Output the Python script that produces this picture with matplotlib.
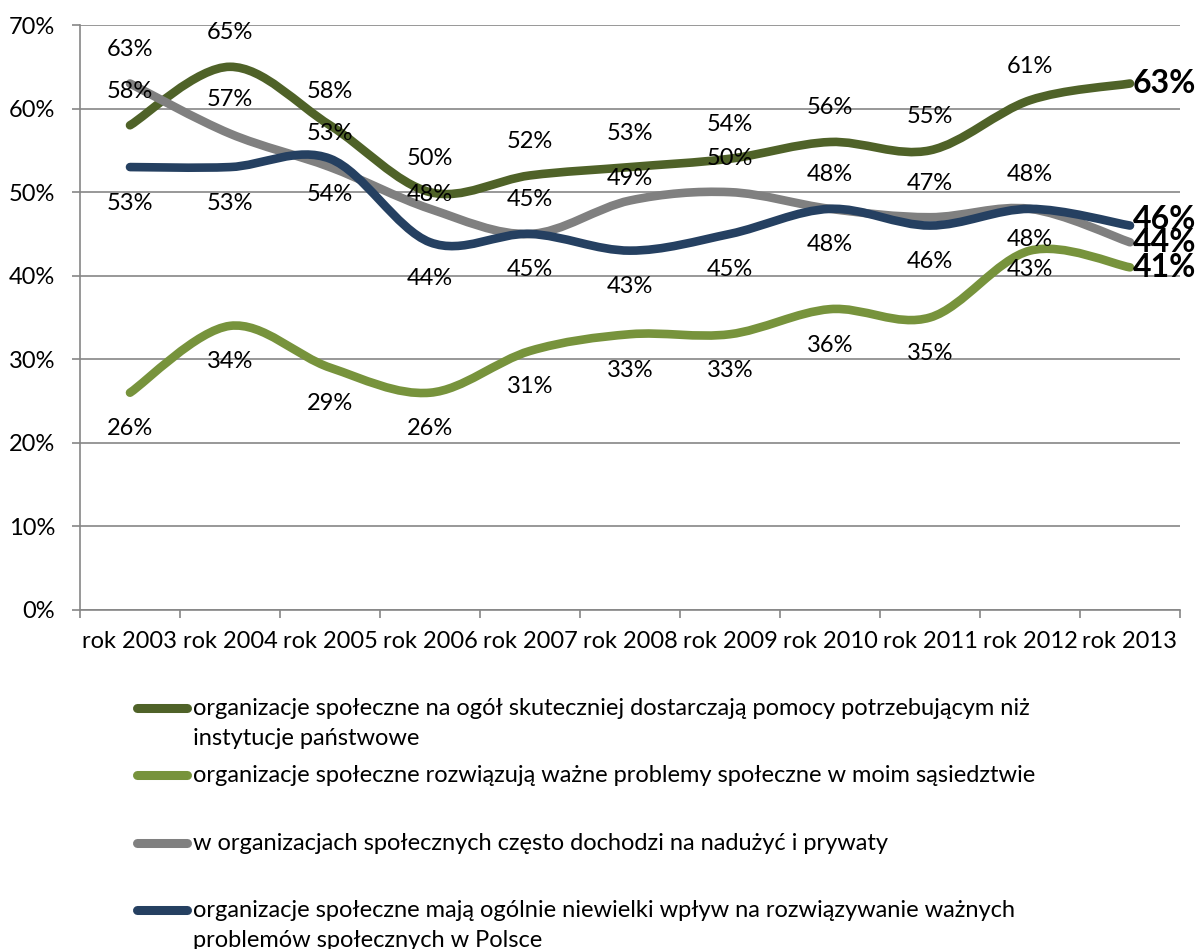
import numpy as np
import matplotlib
matplotlib.use("Agg")
import matplotlib.pyplot as plt
from matplotlib.path import Path
from matplotlib.patches import PathPatch
from matplotlib.lines import Line2D

plt.rcParams['font.family'] = ['Lato', 'DejaVu Sans']

years = ["rok 2003", "rok 2004", "rok 2005", "rok 2006", "rok 2007", "rok 2008",
         "rok 2009", "rok 2010", "rok 2011", "rok 2012", "rok 2013"]

skuteczniej = [58, 65, 58, 50, 52, 53, 54, 56, 55, 61, 63]
rozwiazuja = [26, 34, 29, 26, 31, 33, 33, 36, 35, 43, 41]
naduzycia = [63, 57, 53, 48, 45, 49, 50, 48, 47, 48, 44]
niewielki_wplyw = [53, 53, 54, 44, 45, 43, 45, 48, 46, 48, 46]

labels = [
    "organizacje społeczne na ogół skuteczniej dostarczają pomocy potrzebującym niż\ninstytucje państwowe",
    "organizacje społeczne rozwiązują ważne problemy społeczne w moim sąsiedztwie",
    "w organizacjach społecznych często dochodzi na nadużyć i prywaty",
    "organizacje społeczne mają ogólnie niewielki wpływ na rozwiązywanie ważnych\nproblemów społecznych w Polsce",
]

series = [skuteczniej, rozwiazuja, naduzycia, niewielki_wplyw]
colors = ["#4F6228", "#77933C", "#808080", "#254061"]
# label offsets in pixels (negative = above the point), a few moved by hand like in the original
base_off = [-34, 36, -34, 36]
extra_off = {(2, 3): 20, (2, 5): 12, (1, 9): -17, (3, 9): -5}
FS = 17


def smooth_path(xs, ys):
    # Excel-style smoothed line: cubic bezier segments through the points
    pts = np.column_stack([xs, ys]).astype(float)
    n = len(pts)
    verts = [pts[0]]
    codes = [Path.MOVETO]
    for i in range(n - 1):
        p0 = pts[i - 1] if i > 0 else pts[i]
        p1 = pts[i]
        p2 = pts[i + 1]
        p3 = pts[i + 2] if i + 2 < n else pts[i + 1]
        c1 = p1 + (p2 - p0) / 6.0
        c2 = p2 - (p3 - p1) / 6.0
        verts += [c1, c2, p2]
        codes += [Path.CURVE4] * 3
    return Path(verts, codes)


fig = plt.figure(figsize=(11.96, 9.49), dpi=100)
ax = fig.add_axes([80 / 1196, 1 - 610 / 949, 1100 / 1196, 585 / 949])

x = np.arange(len(years))
for k, (vals, col) in enumerate(zip(series, colors)):
    patch = PathPatch(smooth_path(x, vals), fill=False, edgecolor=col, lw=6.2,
                      capstyle='round', joinstyle='round', zorder=3 + k)
    ax.add_patch(patch)
    for i, v in enumerate(vals[:-1]):
        off = base_off[k] + extra_off.get((k, i), 0)
        ax.annotate(f"{v}%", (x[i], v), xytext=(0, -off), textcoords='offset pixels',
                    ha='center', va='center', fontsize=FS, color='black', zorder=10)

# bold end labels
end_off = [0, 0, 0, -6]
for k, vals in enumerate(series):
    ax.annotate(f"{vals[-1]}%", (x[-1], vals[-1]), xytext=(3, -end_off[k]),
                textcoords='offset pixels', ha='left', va='center',
                fontsize=23, fontweight='bold', color='black', zorder=10,
                annotation_clip=False)

ax.set_xlim(-0.5, 10.5)
ax.set_ylim(0, 70)
ax.set_yticks(np.arange(0, 71, 10))
ax.set_yticklabels([f"{t}%" for t in range(0, 71, 10)])
ax.set_xticks(np.arange(-0.5, 11, 1))
ax.set_xticklabels([])
ax.set_xticks(x, minor=True)
ax.set_xticklabels(years, minor=True)
ax.tick_params(axis='x', which='major', length=6, width=1.2, color='#868686', direction='out')
ax.tick_params(axis='x', which='minor', length=0, pad=15, labelsize=FS)
ax.tick_params(axis='y', length=6, width=1.2, color='#868686', pad=12, labelsize=FS)

ax.grid(axis='y', color='#868686', lw=1.2)
ax.set_axisbelow(True)
for s in ['top', 'right']:
    ax.spines[s].set_visible(False)
for s in ['left', 'bottom']:
    ax.spines[s].set_color('#868686')
    ax.spines[s].set_linewidth(1.2)

# legend drawn below the plot
lg = fig.add_axes([0, 0, 1, 1])
lg.set_xlim(0, 1196)
lg.set_ylim(949, 0)
lg.axis('off')
leg_y = [708, 775, 843, 910]
for lab, col, yy in zip(labels, colors, leg_y):
    lg.add_line(Line2D([137, 187], [yy, yy], color=col, lw=6.5, solid_capstyle='round'))
    for j, line in enumerate(lab.split("\n")):
        lg.text(193, yy + 7 + 30 * j, line, fontsize=FS, va='baseline', ha='left')

fig.savefig("out.png", dpi=100)
